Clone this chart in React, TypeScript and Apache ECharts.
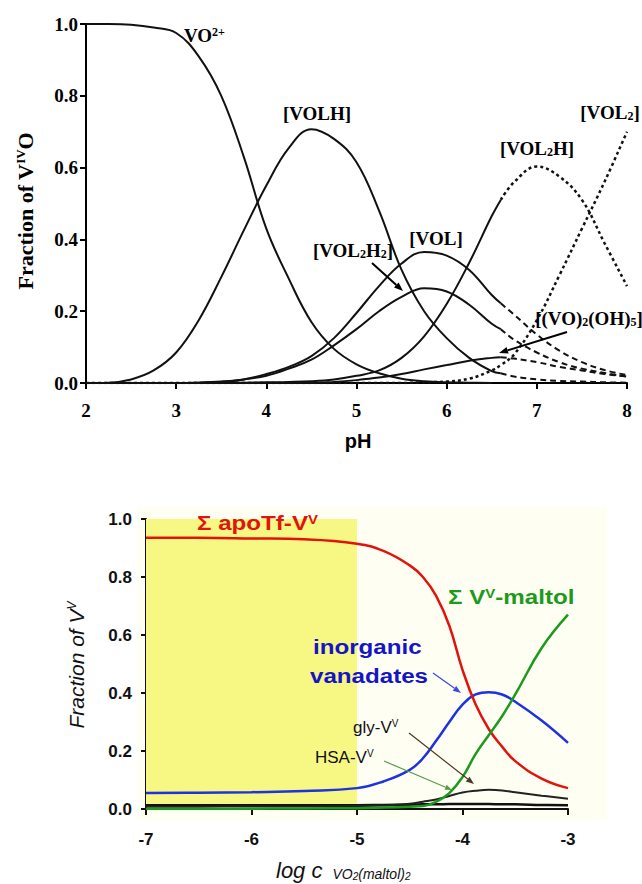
import React, { useEffect, useRef } from "react";
import * as echarts from "echarts";

// ---------- Top chart data (pH speciation of V(IV)O) ----------
const PH = [2, 2.25, 2.5, 2.75, 3, 3.25, 3.5, 3.75, 4, 4.25, 4.5, 4.75, 5, 5.25, 5.5, 5.75, 6, 6.25, 6.5, 6.6, 6.75, 7, 7.25, 7.5, 7.75, 8];
const VO2 = [1.0, 1.0, 0.998, 0.99, 0.975, 0.91, 0.8, 0.63, 0.43, 0.29, 0.17, 0.095, 0.052, 0.027, 0.012, 0.005, 0.002, 0.001, 0, 0, 0, 0, 0, 0, 0, 0];
const VOLH = [0, 0.001, 0.01, 0.035, 0.085, 0.175, 0.295, 0.425, 0.55, 0.655, 0.707, 0.68, 0.615, 0.48, 0.315, 0.2, 0.125, 0.07, 0.033, 0.027, 0.018, 0.01, 0.006, 0.004, 0.002, 0.001];
const VOL = [0, 0, 0, 0, 0, 0.001, 0.003, 0.01, 0.025, 0.045, 0.075, 0.125, 0.195, 0.27, 0.333, 0.365, 0.355, 0.315, 0.245, 0.222, 0.19, 0.135, 0.09, 0.058, 0.036, 0.022];
const VOL2H2 = [0, 0, 0, 0, 0, 0.001, 0.004, 0.01, 0.02, 0.04, 0.065, 0.105, 0.15, 0.2, 0.24, 0.264, 0.255, 0.218, 0.165, 0.15, 0.12, 0.085, 0.058, 0.04, 0.028, 0.018];
const VOL2H = [0, 0, 0, 0, 0, 0, 0, 0.001, 0.002, 0.003, 0.005, 0.01, 0.02, 0.035, 0.07, 0.13, 0.22, 0.335, 0.465, 0.51, 0.56, 0.603, 0.575, 0.51, 0.39, 0.27];
const VOL2 = [0, 0, 0, 0, 0, 0, 0, 0, 0, 0, 0, 0, 0, 0, 0, 0.002, 0.004, 0.012, 0.035, 0.05, 0.08, 0.175, 0.3, 0.43, 0.56, 0.7];
const VO2OH5 = [0, 0, 0, 0, 0, 0, 0, 0, 0, 0, 0, 0.003, 0.008, 0.015, 0.025, 0.038, 0.05, 0.062, 0.07, 0.072, 0.068, 0.058, 0.045, 0.035, 0.025, 0.018];
const PH_CUT = 6.6;
const PH_TICKS = [2, 3, 4, 5, 6, 7, 8];

// ---------- Bottom chart data (V(V) speciation vs log c) ----------
const LOGC = [-7, -6.5, -6, -5.5, -5, -4.75, -4.5, -4.375, -4.25, -4.125, -4, -3.875, -3.75, -3.625, -3.5, -3.25, -3];
const APOTF = [0.935, 0.935, 0.933, 0.93, 0.915, 0.89, 0.84, 0.8, 0.735, 0.632, 0.48, 0.36, 0.275, 0.215, 0.165, 0.105, 0.072];
const INORG = [0.055, 0.056, 0.058, 0.062, 0.072, 0.095, 0.135, 0.175, 0.235, 0.3, 0.36, 0.395, 0.403, 0.395, 0.37, 0.305, 0.228];
const MALTOL = [0, 0, 0.001, 0.002, 0.003, 0.005, 0.008, 0.01, 0.025, 0.055, 0.11, 0.19, 0.255, 0.32, 0.395, 0.555, 0.67];
const GLY = [0.008, 0.008, 0.009, 0.009, 0.01, 0.012, 0.018, 0.025, 0.033, 0.045, 0.057, 0.063, 0.066, 0.064, 0.058, 0.046, 0.035];
const HSA = [0.013, 0.013, 0.013, 0.013, 0.013, 0.014, 0.015, 0.016, 0.016, 0.017, 0.017, 0.017, 0.017, 0.016, 0.016, 0.014, 0.013];
const YELLOW_RANGE = [-7, -5];

const SERIF = "Liberation Serif";
const SANS = "Liberation Sans";

function pts(xs: number[], ys: number[], keep: (x: number) => boolean) {
  const out: number[][] = [];
  xs.forEach((x, i) => {
    if (keep(x)) out.push([x, ys[i]]);
  });
  return out;
}

function topLine(name: string, data: number[][], type: any, width = 2) {
  return {
    name,
    type: "line",
    xAxisIndex: 0,
    yAxisIndex: 0,
    data,
    smooth: 0.4,
    symbol: "none",
    silent: true,
    lineStyle: { color: "#111", width, type },
  };
}

function botLine(name: string, ys: number[], color: string, width: number, extra: any = {}) {
  return {
    name,
    type: "line",
    xAxisIndex: 1,
    yAxisIndex: 1,
    data: LOGC.map((x, i) => [x, ys[i]]),
    smooth: 0.45,
    symbol: "none",
    silent: true,
    lineStyle: { color, width },
    ...extra,
  };
}

function arrow(x1: number, y1: number, x2: number, y2: number, color: string, width: number, head = 9) {
  const ang = Math.atan2(y2 - y1, x2 - x1);
  const hw = head * 0.38;
  const bx = x2 - head * Math.cos(ang);
  const by = y2 - head * Math.sin(ang);
  const px = -Math.sin(ang) * hw;
  const py = Math.cos(ang) * hw;
  return [
    { type: "line", shape: { x1, y1, x2: bx, y2: by }, style: { stroke: color, lineWidth: width }, z: 50 },
    {
      type: "polygon",
      shape: { points: [[x2, y2], [bx + px, by + py], [bx - px, by - py]] },
      style: { fill: color },
      z: 50,
    },
  ];
}

function serifLabel(text: string, x: number, y: number, align = "center") {
  return {
    type: "text",
    x,
    y,
    z: 60,
    style: {
      text,
      fill: "#000",
      fontFamily: SERIF,
      fontWeight: "bold",
      fontSize: 19,
      align,
      verticalAlign: "middle",
      rich: {
        sub: { fontFamily: SERIF, fontWeight: "bold", fontSize: 12, verticalAlign: "bottom", lineHeight: 12, fill: "#000" },
        sup: { fontFamily: SERIF, fontWeight: "bold", fontSize: 12, verticalAlign: "top", lineHeight: 12, fill: "#000" },
      },
    },
  };
}

function sansLabel(text: string, x: number, y: number, color: string, size: number, weight: string, scaleX = 1) {
  return {
    type: "text",
    x,
    y,
    z: 60,
    scaleX,
    style: {
      text,
      fill: color,
      fontFamily: SANS,
      fontWeight: weight,
      fontSize: size,
      align: "left",
      verticalAlign: "middle",
      rich: {
        sup: { fontFamily: SANS, fontWeight: weight, fontSize: Math.round(size * 0.6), verticalAlign: "top", lineHeight: 10, fill: color },
      },
    },
  };
}

export default function App() {
  const ref = useRef<HTMLDivElement>(null);

  useEffect(() => {
    if (!ref.current) return;
    const chart = echarts.init(ref.current, null, { renderer: "svg" });

    const solid = (x: number) => x <= PH_CUT;
    const after = (x: number) => x >= PH_CUT;

    const series: any[] = [
      topLine("VO2+", pts(PH, VO2, (x) => x <= 6.5)),
      topLine("[VOLH]", pts(PH, VOLH, solid)),
      topLine("[VOLH] ext", pts(PH, VOLH, after), [6, 4]),
      topLine("[VOL]", pts(PH, VOL, solid)),
      topLine("[VOL] ext", pts(PH, VOL, after), [6, 4]),
      topLine("[VOL2H2]", pts(PH, VOL2H2, solid)),
      topLine("[VOL2H2] ext", pts(PH, VOL2H2, after), [6, 4]),
      topLine("[VOL2H]", pts(PH, VOL2H, solid)),
      topLine("[VOL2H] ext", pts(PH, VOL2H, after), [3, 3], 2.5),
      topLine("[VOL2]", pts(PH, VOL2, () => true), [3, 3], 2.5),
      topLine("[(VO)2(OH)5]", pts(PH, VO2OH5, solid)),
      topLine("[(VO)2(OH)5] ext", pts(PH, VO2OH5, after), [6, 4]),
      botLine("HSA-VV", HSA, "#111", 2.5, {
        markArea: {
          silent: true,
          itemStyle: { color: "#F7F784" },
          data: [[{ xAxis: YELLOW_RANGE[0], yAxis: 0.015 }, { xAxis: YELLOW_RANGE[1], yAxis: 1.0 }]],
        },
      }),
      botLine("gly-VV", GLY, "#222", 2),
      botLine("inorganic vanadates", INORG, "#1E32E0", 2.5),
      botLine("Σ apoTf-VV", APOTF, "#E0140C", 2.5),
      botLine("Σ VV-maltol", MALTOL, "#1C9A1C", 2.5),
    ];

    const axisLineTop = { show: true, lineStyle: { color: "#000", width: 2 } };
    const tickTop = { show: true, inside: false, length: 6, lineStyle: { color: "#000", width: 2 } };

    const graphic: any[] = [
      { type: "rect", shape: { x: 137, y: 507, width: 470, height: 313 }, style: { fill: "#FFFEF3" }, z: -10, silent: true },
      serifLabel("VO{sup|2+}", 184, 35, "left"),
      serifLabel("[VOLH]", 317, 113),
      serifLabel("[VOL{sub|2}H]", 537, 148),
      serifLabel("[VOL{sub|2}]", 610, 112),
      serifLabel("[VOL{sub|2}H{sub|2}]", 353, 250),
      serifLabel("[VOL]", 436, 238),
      serifLabel("[(VO){sub|2}(OH){sub|5}]", 589, 318),
      ...arrow(372, 263, 403, 291, "#000", 2),
      ...arrow(567, 332, 499, 353, "#000", 2),
      {
        type: "text",
        x: 25,
        y: 211,
        rotation: Math.PI / 2,
        z: 60,
        style: {
          text: "Fraction of V{sup|IV}O",
          fill: "#000",
          fontFamily: SERIF,
          fontWeight: "bold",
          fontSize: 22,
          align: "center",
          verticalAlign: "middle",
          rich: { sup: { fontFamily: SERIF, fontWeight: "bold", fontSize: 13, verticalAlign: "top", lineHeight: 13, fill: "#000" } },
        },
      },
      {
        type: "text",
        x: 358,
        y: 441,
        z: 60,
        style: { text: "pH", fill: "#000", fontFamily: SANS, fontWeight: "bold", fontSize: 20, align: "center", verticalAlign: "middle" },
      },
      sansLabel("Σ apoTf-V{sup|V}", 197, 523, "#E0140C", 21, "bold", 1.15),
      sansLabel("Σ V{sup|V}-maltol", 448, 597, "#1C9A1C", 21, "bold", 1.15),
      sansLabel("inorganic", 313, 647, "#1414C8", 21, "bold", 1.15),
      sansLabel("vanadates", 310, 676, "#1414C8", 21, "bold", 1.15),
      sansLabel("gly-V{sup|V}", 353, 727, "#111", 17, "normal"),
      sansLabel("HSA-V{sup|V}", 315, 757, "#111", 17, "normal"),
      ...arrow(433, 673, 461, 693, "#3A4AE0", 1.2, 8),
      ...arrow(409, 733, 474, 784, "#4A3A20", 1.2, 8),
      ...arrow(384, 761, 452, 790, "#5C9A4A", 1.2, 7),
      {
        type: "text",
        x: 76,
        y: 665,
        rotation: Math.PI / 2,
        z: 60,
        style: {
          text: "Fraction of V{sup|V}",
          fill: "#111",
          fontFamily: SANS,
          fontStyle: "italic",
          fontSize: 21,
          align: "center",
          verticalAlign: "middle",
          rich: { sup: { fontFamily: SANS, fontStyle: "italic", fontSize: 12, verticalAlign: "top", lineHeight: 12, fill: "#111" } },
        },
      },
      {
        type: "text",
        x: 276,
        y: 870,
        z: 60,
        style: {
          text: "log c {sub| VO}{sub2|2}{sub|(maltol)}{sub2|2}",
          fill: "#111",
          fontFamily: SANS,
          fontStyle: "italic",
          fontSize: 22,
          align: "left",
          verticalAlign: "middle",
          rich: {
            sub: { fontFamily: SANS, fontStyle: "italic", fontSize: 14, verticalAlign: "bottom", lineHeight: 14, fill: "#111" },
            sub2: { fontFamily: SANS, fontStyle: "italic", fontSize: 10, verticalAlign: "bottom", lineHeight: 10, fill: "#111" },
          },
        },
      },
    ];

    chart.setOption({
      animation: false,
      backgroundColor: "#ffffff",
      grid: [
        { left: 86, top: 24, width: 541, height: 359 },
        { left: 146, top: 519, width: 422, height: 290 },
      ],
      xAxis: [
        {
          type: "value",
          gridIndex: 0,
          min: PH_TICKS[0],
          max: PH_TICKS[PH_TICKS.length - 1],
          interval: 1,
          axisLine: axisLineTop,
          axisTick: tickTop,
          splitLine: { show: false },
          axisLabel: { color: "#000", fontFamily: SERIF, fontWeight: "bold", fontSize: 19, margin: 18 },
        },
        {
          type: "value",
          gridIndex: 1,
          min: -7,
          max: -3,
          interval: 1,
          axisLine: { show: true, lineStyle: { color: "#111", width: 2 } },
          axisTick: { show: true, inside: false, length: 6, lineStyle: { color: "#111", width: 2 } },
          splitLine: { show: false },
          axisLabel: { color: "#111", fontFamily: SANS, fontWeight: "bold", fontSize: 17, margin: 22 },
        },
      ],
      yAxis: [
        {
          type: "value",
          gridIndex: 0,
          min: 0,
          max: 1,
          interval: 0.2,
          axisLine: axisLineTop,
          axisTick: tickTop,
          splitLine: { show: false },
          axisLabel: {
            color: "#000",
            fontFamily: SERIF,
            fontWeight: "bold",
            fontSize: 19,
            margin: 8,
            formatter: (v: number) => v.toFixed(1),
          },
        },
        {
          type: "value",
          gridIndex: 1,
          min: 0,
          max: 1,
          interval: 0.2,
          axisLine: { show: true, lineStyle: { color: "#111", width: 2 } },
          axisTick: { show: true, inside: false, length: 5, lineStyle: { color: "#111", width: 2 } },
          splitLine: { show: false },
          axisLabel: {
            color: "#111",
            fontFamily: SANS,
            fontWeight: "bold",
            fontSize: 17,
            margin: 14,
            formatter: (v: number) => v.toFixed(1),
          },
        },
      ],
      series,
      graphic,
    });

    return () => chart.dispose();
  }, []);

  return (
    <div
      ref={ref}
      style={{ position: "fixed", left: 0, top: 0, width: 642, height: 884, background: "#fff" }}
    />
  );
}
